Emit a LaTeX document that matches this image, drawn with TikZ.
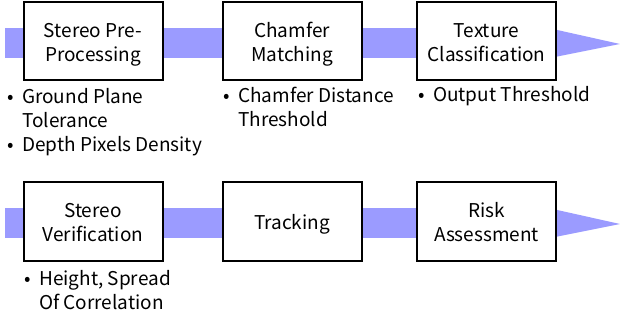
\documentclass[tikz,border=0pt]{standalone}
\usepackage{fontspec}
\setmainfont{Noto Sans CJK JP}
\usetikzlibrary{calc,backgrounds}
\definecolor{bandc}{HTML}{9B9BFF}
\newcommand{\bitem}{\makebox[15pt][l]{•}}
\newcommand{\bindent}{\hspace*{15pt}}
\begin{document}
\begin{tikzpicture}[x=1pt,y=-1pt,
  stage/.style={draw=black,line width=2pt,fill=white,minimum width=139pt,minimum height=78pt,inner sep=0pt},
  lbl/.style={align=center,inner sep=0pt,yshift=-3.3pt,font=\fontsize{19}{24}\selectfont},
  band/.style={draw=bandc,line width=30pt,line cap=butt},
  bandtip/.style={fill=bandc,draw=none},
  note/.style={anchor=base west,align=left,inner sep=0pt,font=\fontsize{19}{24}\selectfont}]
\useasboundingbox (0,0) rectangle (620,320);
% top row
\coordinate (s1) at (5,43);
\coordinate (t1) at (620,44);
\node[stage] (b1) at (93,41) {};
\node[stage] (b2) at (292,41) {};
\node[stage] (b3) at (486.5,41) {};
\node[lbl] (b1t) at (b1) {Stereo Pre-\strut\\Processing\strut};
\node[lbl] (b2t) at (b2) {Chamfer\strut\\Matching\strut};
\node[lbl] (b3t) at (b3) {Texture\strut\\Classification\strut};
% bottom row
\coordinate (s2) at (5,223);
\coordinate (t2) at (620,224);
\node[stage] (c1) at (93,221.5) {};
\node[stage] (c2) at (292,221.5) {};
\node[stage] (c3) at (486.5,221.5) {};
\node[lbl] (c1t) at (c1) {Stereo\strut\\Verification\strut};
\node[lbl] (c2t) at (c2) {Tracking\strut};
\node[lbl] (c3t) at (c3) {Risk\strut\\Assessment\strut};
% bands behind the boxes
\begin{scope}[on background layer]
\draw[band] (s1) -- (b1.west |- s1);
\draw[band] (b1.east |- s1) -- (b2.west |- s1);
\draw[band] (b2.east |- s1) -- (b3.west |- s1);
\fill[bandtip] ($(b3.east |- s1)+(-2,-13.5)$) -- (t1) -- ($(b3.east |- s1)+(-2,14)$) -- cycle;
\draw[band] (s2) -- (c1.west |- s2);
\draw[band] (c1.east |- s2) -- (c2.west |- s2);
\draw[band] (c2.east |- s2) -- (c3.west |- s2);
\fill[bandtip] ($(c3.east |- s2)+(-2,-13.5)$) -- (t2) -- ($(c3.east |- s2)+(-2,14)$) -- cycle;
\end{scope}
% notes (anchored at the baseline of the last line)
\node[note] (n1) at (7,152) {\bitem Ground Plane\\\bindent Tolerance\\\bitem Depth Pixels Density};
\node[note] (n2) at (223,127) {\bitem Chamfer Distance\\\bindent Threshold};
\node[note] (n3) at (418,102) {\bitem Output Threshold};
\node[note] (n4) at (24,309) {\bitem Height, Spread\\\bindent Of Correlation};
\end{tikzpicture}
\end{document}
